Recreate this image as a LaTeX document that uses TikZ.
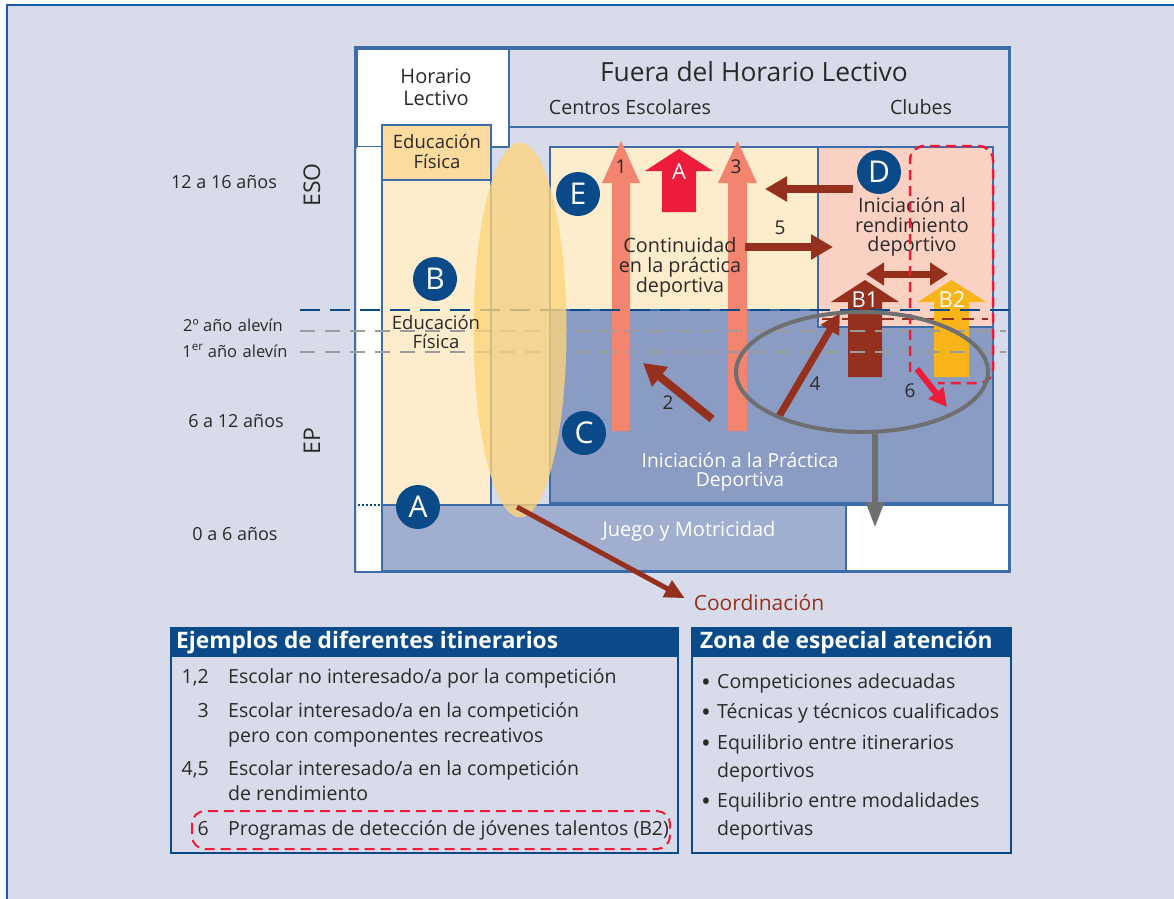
\documentclass[tikz,border=0pt]{standalone}
\usepackage{fontspec}
\setmainfont{Open Sans}
\usetikzlibrary{arrows.meta,shapes.geometric}
\definecolor{lav}{HTML}{D8DCEA}
\definecolor{fblue}{HTML}{1F5AA6}
\definecolor{bblue}{HTML}{3E6CA8}
\definecolor{dblue}{HTML}{0B4A89}
\definecolor{cream}{HTML}{FDEDCC}
\definecolor{efor}{HTML}{FDDB9F}
\definecolor{pinkz}{HTML}{FBD1C4}
\definecolor{epblue}{HTML}{8A9CC4}
\definecolor{jblue}{HTML}{A0AFD0}
\definecolor{yel}{HTML}{FDD47B}
\definecolor{salmon}{HTML}{F28470}
\definecolor{redz}{HTML}{EC1C3A}
\definecolor{dred}{HTML}{95301E}
\definecolor{byel}{HTML}{F8B419}
\definecolor{ringgray}{HTML}{6E6F71}
\definecolor{lgray}{HTML}{9C9C9C}
\definecolor{txt}{HTML}{2B2A29}
\newcommand\myfs[2]{\fontsize{#1}{#2}\selectfont}
% color, xl, xr, ybottom, yheadbase, ytip, headleft, headright
\newcommand\blockup[8]{\fill[#1] (#2,#4) -- (#2,#5) -- (#7,#5) -- ({(#2+#3)/2},#6) -- (#8,#5) -- (#3,#5) -- (#3,#4) -- cycle;}
\tikzset{
  reg/.style={draw=bblue, line width=1.3pt},
  lbl/.style={font=\myfs{19.7}{21}, text=txt, align=center, inner sep=0},
  side/.style={font=\myfs{18}{19}, text=txt, align=center, inner sep=0},
  num/.style={font=\myfs{19}{20}, text=txt, inner sep=0},
  letter/.style={circle, fill=dblue, text=white, minimum size=44pt, inner sep=0, font=\myfs{30}{30}},
  fat/.style={draw=dred, line width=8pt, -{Triangle[length=22pt,width=24pt]}},
  head/.style={fill=dblue, text=white, font=\bfseries\myfs{22.7}{24}, anchor=west, inner sep=0},
  item/.style={font=\myfs{19.5}{22}, text=txt, inner sep=0},
  bul/.style={font=\myfs{26}{26}, text=txt, inner sep=0, anchor=base},
  reddash/.style={draw=redz, line width=2.5pt, dash pattern=on 10pt off 6pt},
}
\begin{document}
\begin{tikzpicture}[x=1pt,y=-1pt]
\useasboundingbox (0,0) rectangle (1174,898);
\fill[white] (0,0) rectangle (1174,898);
\draw[line width=2pt, draw=fblue, fill=lav] (7,5) rectangle (1190,915);
% main box
\draw[line width=2.5pt, draw=bblue, fill=lav] (355,47) rectangle (1010,572);
\draw[reg, fill=white] (357,49) rectangle (509,147);
\fill[white] (357,147) rectangle (382,571);
\draw[reg, fill=lav] (509,49) rectangle (1009,127);
\draw[reg] (509,127) -- (509,147);
\draw[reg] (1009,127) -- (1009,505);
\draw[reg, fill=cream] (382,180) rectangle (491,505);
\draw[reg, fill=efor] (382,125) rectangle (491,180);
\draw[reg, fill=cream] (550,147) rectangle (818,310);
\draw[reg, fill=epblue] (550,310) rectangle (993,503);
\draw[reg, fill=pinkz] (818,147) rectangle (993,327);
\draw[reg, fill=jblue] (382,505) rectangle (846,571);
\draw[reg, fill=white] (846,505) rectangle (1009,571);
% block arrows
\blockup{salmon}{612}{630}{431}{183}{141}{602}{640}
\blockup{salmon}{728}{747}{431}{183}{141}{718}{757}
\blockup{redz}{662}{696}{212}{171}{149}{645}{713}
\blockup{dred}{848}{882}{377}{302}{280}{831}{899}
\blockup{byel}{934}{969}{377}{302}{280}{918}{986}
\node[font=\myfs{22}{22}, text=white, inner sep=0] (lA) at (679,172) {A};
\node[font=\myfs{22}{22}, text=white, inner sep=0] (lB1) at (865,300) {B1};
\node[font=\myfs{22}{22}, text=white, inner sep=0] (lB2) at (952,300) {B2};
% dashed lines
\draw[dblue, line width=2.5pt, dash pattern=on 20pt off 10pt] (300,310) -- (1009,310);
\draw[lgray, line width=2.5pt, dash pattern=on 15pt off 10pt] (300,331) -- (1006,331);
\draw[lgray, line width=2.5pt, dash pattern=on 15pt off 10pt] (300,352) -- (1006,352);
\draw[dred, line width=2.5pt, dash pattern=on 12pt off 8pt] (822,319) -- (988,319);
\draw[dblue, line width=2pt, dash pattern=on 2pt off 2pt] (358,505) -- (381,505);
% yellow ellipse
\node[ellipse, fill=yel, opacity=0.78, minimum width=93pt, minimum height=375pt, inner sep=0] (yell) at (520,330) {};
% texts
\node[lbl, font=\myfs{26.4}{28}] (fuera) at (754,72) {Fuera del Horario Lectivo};
\node[lbl, font=\myfs{20}{22}] (horario) at (436,87) {Horario\\Lectivo};
\node[lbl] (centros) at (630,107) {Centros Escolares};
\node[lbl] (clubes) at (921,107) {Clubes};
\node[lbl, font=\myfs{18.5}{20}] (ef1) at (437,151) {Educación\\Física};
\node[lbl, font=\myfs{18.5}{19}] (ef2) at (436,332) {Educación\\Física};
\node[lbl, font=\myfs{19.8}{20}] (cont) at (680,267) {Continuidad\\en la práctica\\deportiva};
\node[lbl, font=\myfs{19.8}{19.5}] (irend) at (912,227) {Iniciación al\\rendimiento\\deportivo};
\node[lbl, font=\myfs{19.3}{19}, text=white] (ipd) at (740,472) {Iniciación a la Práctica\\Deportiva};
\node[lbl, font=\myfs{20}{20}, text=white] (juego) at (689,531) {Juego y Motricidad};
\node[lbl, font=\myfs{21}{20}, text=dred] (coordtxt) at (759,603) {Coordinación};
% side labels
\node[side] (s1) at (224,182) {12 a 16 años};
\node[side, font=\myfs{23}{24}, rotate=90] (eso) at (312,185) {ESO};
\node[side, font=\myfs{16.5}{18}] (s2) at (233,325) {2º año\,\,alevín};
\node[side, font=\myfs{16.5}{18}] (s3) at (235,351) {1\textsuperscript{er} año\,\,alevín};
\node[side] (s4) at (236,421) {6 a 12 años};
\node[side, font=\myfs{23}{24}, rotate=90] (ep) at (312,441) {EP};
\node[side] (s5) at (235,534) {0 a 6 años};
% numbers
\node[num] (n1) at (621,167) {1};
\node[num] (n3) at (736,167) {3};
\node[num] (n5) at (780,228) {5};
\node[num] (n2) at (668,403) {2};
\node[num] (n4) at (815,384) {4};
\node[num] (n6) at (910,391) {6};
% line arrows
\coordinate (d0) at (853,189); \coordinate (d1) at (765,189);
\draw[fat] (d0) -- (d1);
\coordinate (f0) at (745,247); \coordinate (f1) at (833,247);
\draw[fat] (f0) -- (f1);
\coordinate (b0) at (866,274); \coordinate (b1) at (948,274);
\draw[draw=dred, line width=7pt, {Triangle[length=18pt,width=22pt]}-{Triangle[length=18pt,width=22pt]}] (b0) -- (b1);
\coordinate (t0) at (712,419); \coordinate (t1) at (643,363);
\draw[fat] (t0) -- (t1);
\coordinate (q0) at (778,418); \coordinate (q1) at (840,313);
\draw[draw=dred, line width=7pt, -{Triangle[length=20pt,width=20pt]}] (q0) -- (q1);
\coordinate (x0) at (917,369); \coordinate (x1) at (947,407);
\draw[draw=redz, line width=6pt, -{Triangle[length=18pt,width=18pt]}] (x0) -- (x1);
% red dashed B2 zone
\draw[reddash, rounded corners=14pt] (910,372) -- (910,146) -- (993,146) -- (993,383) -- (938,383);
% gray ring
\node[ellipse, draw=ringgray, line width=4pt, minimum width=252pt, minimum height=120pt, inner sep=0] (ring) at (862,372) {};
\coordinate (g1) at (875,528);
\draw[draw=ringgray, line width=6pt, -{Triangle[length=26pt,width=17pt]}] (ring.-78) -- (g1);
% coordinacion arrow
\coordinate (c0) at (517,507);
\draw[draw=dred, line width=5pt, -{Triangle[length=20pt,width=18pt]}, shorten >=10pt] (c0) -- (coordtxt.west);
% circles
\node[letter] (E) at (578,194) {E};
\node[letter] (B) at (435,279) {B};
\node[letter] (C) at (584,433) {C};
\node[letter] (A) at (418,507) {A};
\node[letter] (D) at (879,172) {D};
% bottom-left box
\draw[line width=2pt, draw=dblue, fill=lav] (171,628) rectangle (678,853);
\fill[dblue] (171,628) rectangle (678,657);
\node[head] (h1) at (176,643) {Ejemplos de diferentes itinerarios};
\node[item, anchor=base east] (k1) at (209,683) {1,2};
\node[item, anchor=base west] (i1) at (228,683) {Escolar no interesado/a por la competición};
\node[item, anchor=base east] (k2) at (209,717) {3};
\node[item, anchor=base west] (i2) at (228,717) {Escolar interesado/a en la competición};
\node[item, anchor=base west] (i2b) at (228,742) {pero con componentes recreativos};
\node[item, anchor=base east] (k3) at (209,775) {4,5};
\node[item, anchor=base west] (i3) at (228,775) {Escolar interesado/a en la competición};
\node[item, anchor=base west] (i3b) at (228,800) {de rendimiento};
\node[item, anchor=base east] (k4) at (209,835) {6};
\node[item, anchor=base west] (i4) at (228,835) {Programas de detección de jóvenes talentos (B2)};
\draw[reddash, line width=2pt, rounded corners=13pt] (192,811) rectangle (670,849);
% bottom-right box
\draw[line width=2pt, draw=dblue, fill=lav] (692,628) rectangle (1011,853);
\fill[dblue] (692,628) rectangle (1011,657);
\node[head] (h2) at (700,643) {Zona de especial atención};
\node[bul] (u1) at (706,691) {•};
\node[item, anchor=base west] (z1) at (717,688) {Competiciones adecuadas};
\node[bul] (u2) at (706,721) {•};
\node[item, anchor=base west] (z2) at (717,718) {Técnicas y técnicos cualificados};
\node[bul] (u3) at (706,752) {•};
\node[item, anchor=base west] (z3) at (717,749) {Equilibrio entre itinerarios};
\node[item, anchor=base west] (z3b) at (717,777) {deportivos};
\node[bul] (u4) at (706,810) {•};
\node[item, anchor=base west] (z4) at (717,807) {Equilibrio entre modalidades};
\node[item, anchor=base west] (z4b) at (717,835) {deportivas};
\end{tikzpicture}
\end{document}
